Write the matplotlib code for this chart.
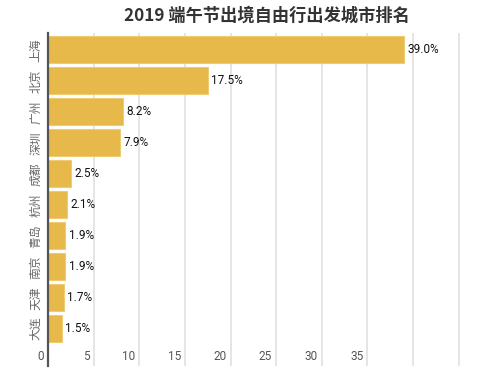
import matplotlib.pyplot as plt

plt.rcParams['font.family'] = ['Noto Sans CJK SC', 'DejaVu Sans']

cities = ['上海', '北京', '广州', '深圳', '成都', '杭州', '青岛', '南京', '天津', '大连']
shares = [39.0, 17.5, 8.2, 7.9, 2.5, 2.1, 1.9, 1.9, 1.7, 1.5]
xticks = [0, 5, 10, 15, 20, 25, 30, 35, 40, 45]

fig = plt.figure(figsize=(5, 3.78), dpi=100)
ax = fig.add_axes([0.096, 0.032, 0.876, 0.881])

pos = list(range(len(cities)))
ax.barh(pos, shares, height=0.87, color='#E7B94A', edgecolor='#EFCB74',
        linewidth=0.8, zorder=3)

for p, v in zip(pos, shares):
    ax.text(v + 0.35, p, f'{v:.1f}%', va='center', ha='left',
            fontsize=8.5, color='#111111', family='Roboto', zorder=4)

ax.set_xlim(0, 48)
ax.set_ylim(10.2, -0.55)

# vertical grid
for t in xticks[1:]:
    ax.axvline(t, color='#e3e3e3', lw=1.3, zorder=1)

# x tick labels drawn inside the bottom band
for t in xticks:
    if t >= 40:
        continue
    ax.text(t - 0.45, 9.9, str(t), ha='right', va='center',
            fontsize=8.5, color='#555555', family='Roboto')

ax.set_xticks([])
ax.set_yticks(pos)
ax.set_yticklabels(cities, rotation=90, va='center', fontsize=8.5, color='#666666')
ax.tick_params(axis='y', length=0, pad=4)

for s in ['top', 'right', 'bottom']:
    ax.spines[s].set_visible(False)
ax.spines['left'].set_color('#555555')
ax.spines['left'].set_linewidth(1.6)
ax.spines['left'].set_zorder(5)

fig.text(0.534, 0.958, '2019 端午节出境自由行出发城市排名', ha='center', va='center',
         fontsize=12.4, fontweight='bold', color='#333333')

fig.savefig('out.png', dpi=100)
